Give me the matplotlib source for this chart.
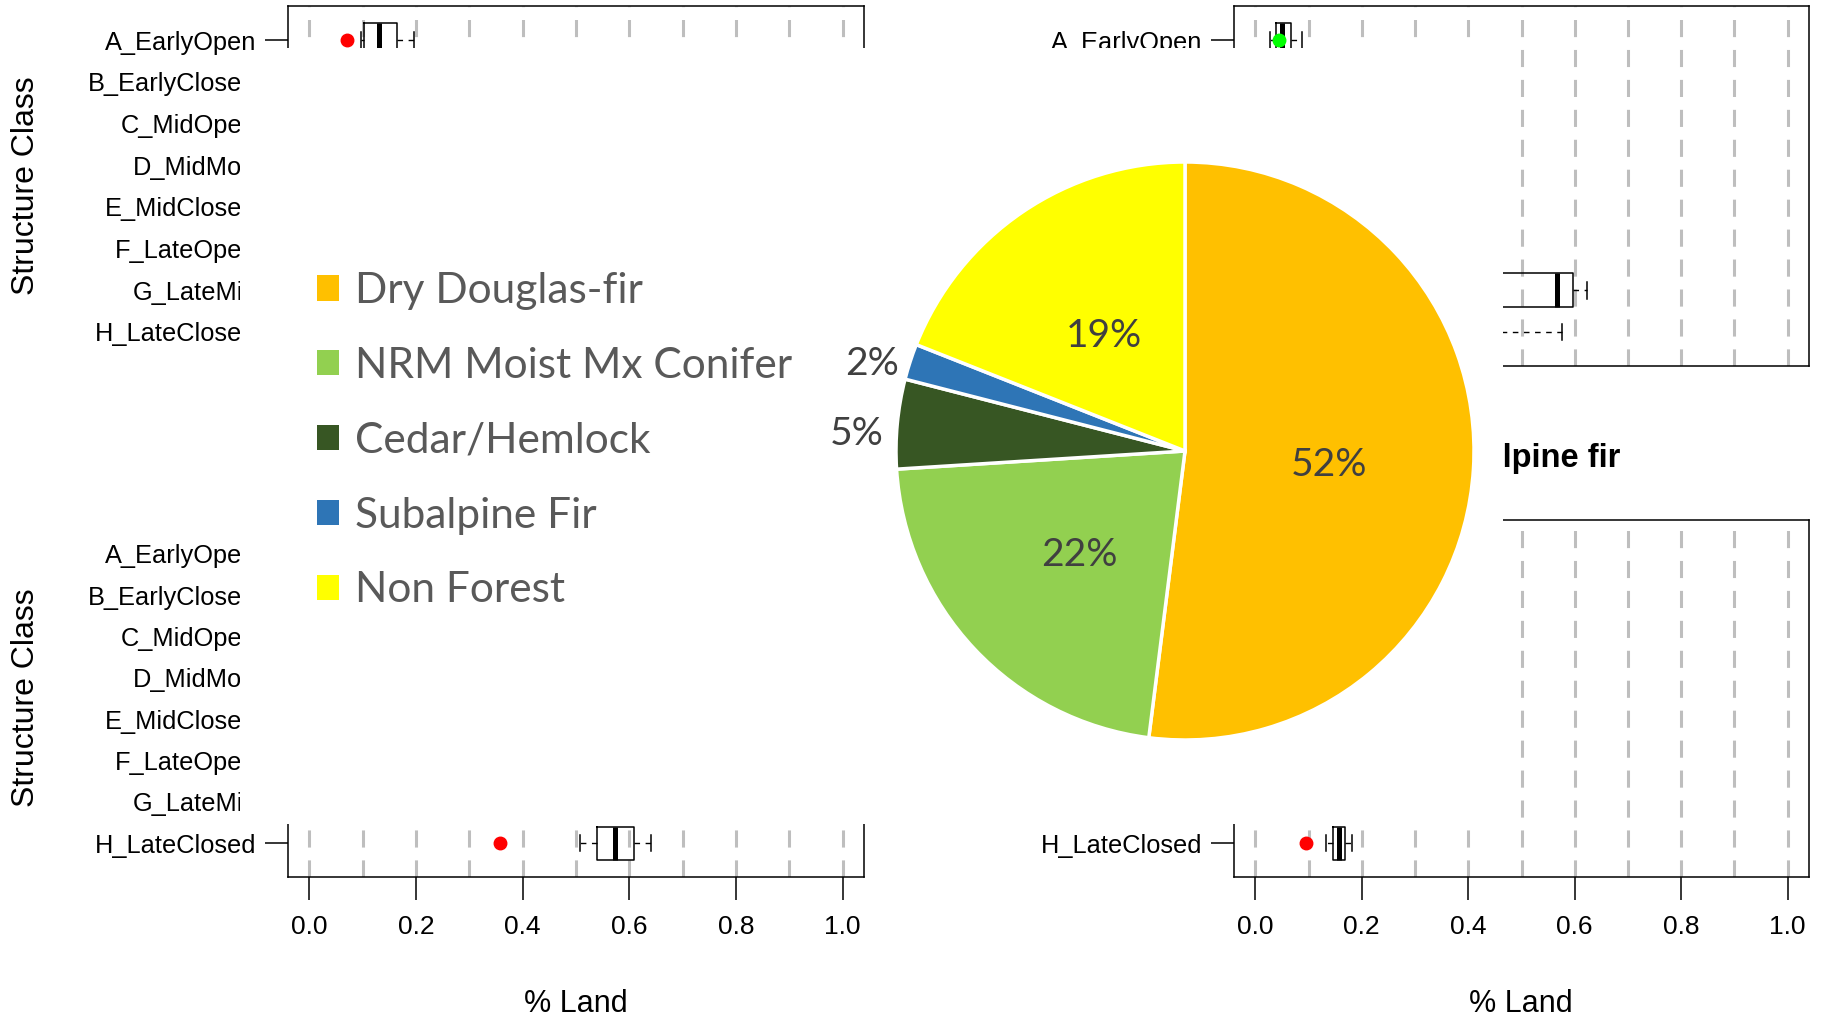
import numpy as np
import matplotlib.pyplot as plt
from matplotlib.patches import Polygon, Patch

plt.rcParams['font.family'] = ['Liberation Sans', 'DejaVu Sans']

W, H = 1823, 1016
fig = plt.figure(figsize=(W / 100, H / 100), dpi=100)


def fx(x):
    return x / W


def fy(y):
    return 1 - y / H


def rect(x0, y0, x1, y1):
    # pixel box (top-left origin) -> figure fraction [l, b, w, h]
    return [x0 / W, 1 - y1 / H, (x1 - x0) / W, (y1 - y0) / H]


# structure classes (rows, top to bottom)
classes = ['A_EarlyOpen', 'B_EarlyClosed', 'C_MidOpen', 'D_MidMod',
           'E_MidClosed', 'F_LateOpen', 'G_LateMix', 'H_LateClosed']
xticks = [0.0, 0.2, 0.4, 0.6, 0.8, 1.0]
xtick_labels = ['0.0', '0.2', '0.4', '0.6', '0.8', '1.0']
grid_x = [0.0, 0.1, 0.2, 0.3, 0.4, 0.5, 0.6, 0.7, 0.8, 0.9, 1.0]

# visible boxes: (row index, whislo, q1, med, q3, whishi)
tl_boxes = [(0, 0.097, 0.103, 0.131, 0.164, 0.197)]
tl_dots = [(0, 0.070)]
tr_boxes = [(0, 0.028, 0.039, 0.050, 0.067, 0.088),
            (6, 0.38, 0.44, 0.566, 0.597, 0.623),
            (7, 0.20, 0.30, 0.36, 0.42, 0.577)]
tr_dots = [(0, 0.044)]
bl_boxes = [(7, 0.508, 0.540, 0.574, 0.608, 0.641)]
bl_dots = [(7, 0.357)]
br_boxes = [(7, 0.133, 0.146, 0.158, 0.169, 0.181)]
br_dots = [(7, 0.096)]

# pie
forest_types = ['Dry Douglas-fir', 'NRM Moist Mx Conifer', 'Cedar/Hemlock',
                'Subalpine Fir', 'Non Forest']
shares = [52, 22, 5, 2, 19]
pie_colors = ['#FFC000', '#92D050', '#375623', '#2E75B6', '#FFFF00']


def panel(r, boxes, dots, dot_color, show_x=True, title=None):
    ax = fig.add_axes(r)
    ax.set_xlim(-0.04, 1.04)
    ax.set_ylim(8.82, 0.18)
    for g in grid_x:
        ax.axvline(g, color='#BEBEBE', lw=2.2, linestyle=(0, (5.6, 4.2)), zorder=1)
    stats = [dict(whislo=b[1], q1=b[2], med=b[3], q3=b[4], whishi=b[5], fliers=[])
             for b in boxes]
    ax.bxp(stats, positions=[b[0] + 1 for b in boxes], widths=0.8,
           orientation='horizontal', showfliers=False, manage_ticks=False,
           boxprops=dict(color='black', lw=1.1),
           whiskerprops=dict(color='black', lw=1.0, linestyle=(0, (4, 4))),
           capprops=dict(color='black', lw=1.1),
           medianprops=dict(color='black', lw=3.6), zorder=3)
    ax.plot([d[1] for d in dots], [d[0] + 1 for d in dots], 'o',
            color=dot_color, ms=9, zorder=4)
    ax.set_yticks(range(1, 9))
    ax.set_yticklabels(classes, fontsize=18.3)
    ax.tick_params(axis='y', length=16.5, width=1.1, pad=6.5)
    if show_x:
        ax.set_xticks(xticks)
        ax.set_xticklabels(xtick_labels, fontsize=19)
        ax.tick_params(axis='x', length=16.5, width=1.1, pad=11)
    else:
        ax.set_xticks([])
    for s in ax.spines.values():
        s.set_linewidth(1.1)
    if title:
        ax.set_title(title, fontsize=23.5, fontweight='bold', pad=38)
    return ax


panel(rect(288, 6, 864, 366), tl_boxes, tl_dots, '#FF0000', show_x=False)
panel(rect(1234, 6, 1809, 366), tr_boxes, tr_dots, '#00FF00', show_x=False)
panel(rect(288, 520, 864, 877), bl_boxes, bl_dots, '#FF0000')
panel(rect(1234, 520, 1809, 877), br_boxes, br_dots, '#FF0000', title='Subalpine fir')

for yc in (186, 698):
    fig.text(fx(26.5), fy(yc), 'Structure Class', rotation=90, ha='center',
             va='center', fontsize=23)
for xc in (576, 1521):
    fig.text(fx(xc), fy(1003.5), '% Land', ha='center', va='center', fontsize=22)

# white pasted picture over the middle of the panels
cover = [(262, 48), (1503, 48), (1503, 824), (240, 824), (240, 62), (262, 62)]
fig.patches.append(Polygon([(fx(x), fy(y)) for x, y in cover], closed=True,
                           transform=fig.transFigure, facecolor='white',
                           edgecolor='none', zorder=5))

pax = fig.add_axes(rect(896, 162, 1474, 740))
pax.set_zorder(10)
wedges, _, pcts = pax.pie(shares, colors=pie_colors, startangle=90,
                          counterclock=False, autopct='%.0f%%',
                          pctdistance=0.5,
                          wedgeprops=dict(edgecolor='white', linewidth=2.5),
                          textprops=dict(fontsize=28, color='#404040',
                                         family='Lato'))
for w, t, v in zip(wedges, pcts, shares):
    if v < 10:
        a = np.deg2rad((w.theta1 + w.theta2) / 2)
        t.set_position((1.14 * np.cos(a), 1.12 * np.sin(a) - 0.045))
    else:
        px, py = t.get_position()
        t.set_position((px, py - 0.017))
pax.set_xlim(-1, 1)
pax.set_ylim(-1, 1)
pax.set_aspect('equal')
pax.axis('off')

handles = [Patch(facecolor=c, edgecolor='none') for c in pie_colors]
leg = fig.legend(handles, forest_types, loc='upper left',
                 bbox_to_anchor=(fx(316.5), fy(272)), frameon=False,
                 prop=dict(family='Lato', size=30.5), labelcolor='#595959',
                 handlelength=0.533, handleheight=0.533, handletextpad=0.37,
                 labelspacing=0.87, borderpad=0, borderaxespad=0)
leg.set_zorder(11)

fig.savefig('out.png', dpi=100)
